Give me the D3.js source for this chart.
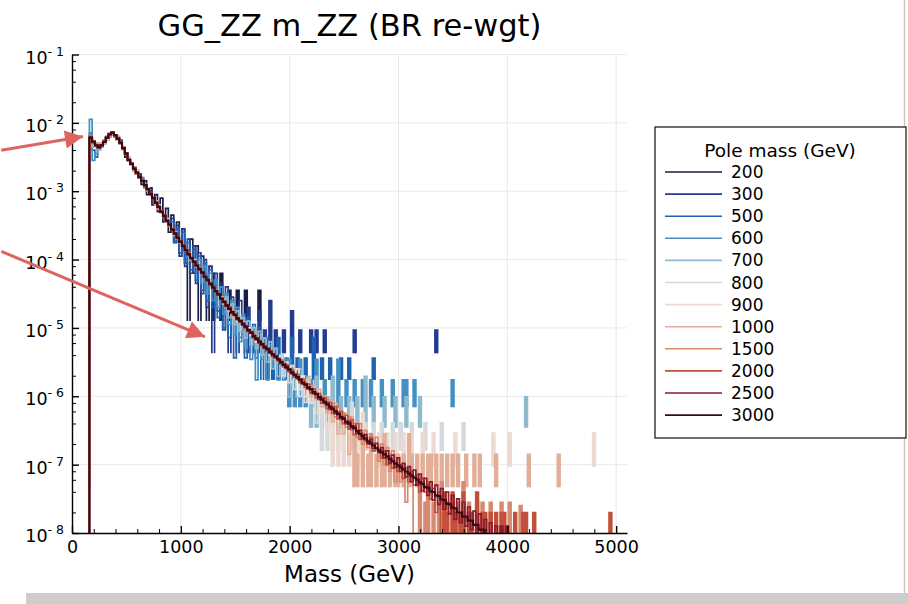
<!DOCTYPE html>
<html>
<head>
<meta charset="utf-8">
<script src="https://cdn.jsdelivr.net/npm/d3@7"></script>
<style>
  body { margin: 0; background: #fff; }
  svg { font-family: "DejaVu Sans", sans-serif; }
</style>
</head>
<body>
<svg id="chart" width="908" height="604"></svg>
<script>
// samples, in legend order (first one drawn at the bottom)
var poleMasses = [200, 300, 500, 600, 700, 800, 900, 1000, 1500, 2000, 2500, 3000];
var seriesColors = ["#1a1c45", "#243c8f", "#1f63b0", "#4590c3", "#8fb9cd", "#d3dadd",
                    "#ecdad2", "#e3ae98", "#d68a70", "#c3503b", "#8a1b2b", "#3d0a14"];

// histogram bins: 25 GeV wide, first bin starts at 160 GeV
var binStart = 160, binWidth = 25;
// log10 level an empty bin falls to, per sample
var floorLog = [-4.9, -5.37, -5.76, -6.16, -6.46, -6.8, -7.03, -7.33, -8.3, -8.5, -9, -9];

// log10(density) of consecutive bins from binStart (null = empty bin)
var dense200 = [-2.25,-2.3,-2.35,-2.4,-2.3,-2.3,-2.25,-2.2,-2.15,-2.2,
  -2.25,-2.3,-2.35,-2.5,-2.55,-2.6,-2.7,-2.7,-2.75,-2.9,
  -2.85,-3.05,-2.95,-3.2,-3.05,-3.3,-3.1,-3.45,-3.25,-3.6,
  -3.35,-3.75,-3.45,-3.9,-3.55,-4.05,null,-3.7,-4.2,-3.8,
  null,-3.95,-4.2,null,-4.1];
var dense300 = [-2.2,-2.3,-2.3,-2.35,-2.35,-2.25,-2.2,-2.15,-2.15,-2.2,
  -2.2,-2.3,-2.4,-2.45,-2.5,-2.6,-2.65,-2.75,-2.8,-2.85,
  -2.9,-3.0,-3.0,-3.1,-3.15,-3.25,-3.3,-3.35,-3.4,-3.5,
  -3.4,-3.75,-3.5,-3.95,-3.55,-4.1,-3.7,-4.2,-3.8,-4.35,
  -3.9,-4.5,-4.0,-4.7,-4.1,null,-4.2,-4.75,-4.35,-5.03,
  -4.4,null,-4.55,-4.73,null,-4.6,-5.03];
var dense500 = [-2.15,-2.4,-2.5,-2.35,-2.3,-2.25,-2.25,-2.15,-2.15,-2.2,
  -2.25,-2.25,-2.35,-2.45,-2.55,-2.6,-2.65,-2.75,-2.8,-2.85,
  -2.9,-3.0,-3.05,-3.1,-3.2,-3.25,-3.3,-3.4,-3.45,-3.45,
  -3.45,-3.75,-3.55,-3.9,-3.6,-4.05,-3.75,-4.15,-3.85,-4.3,
  -3.95,-4.45,-4.05,-4.6,-4.15,-4.7,-4.3,-4.85,-4.4,-5.0,
  -4.5,-5.14,-4.6,-5.44,-4.7,-5.14,-4.8,-5.44,-4.85,-5.14,
  -4.95,-5.44,-5.0,null,-5.14];
var dense600 = [-1.95,-2.55,-2.45,-2.4,-2.3,-2.3,-2.2,-2.2,-2.15,-2.2,
  -2.25,-2.3,-2.35,-2.45,-2.55,-2.6,-2.65,-2.75,-2.8,-2.8,
  -2.95,-2.95,-3.05,-3.1,-3.15,-3.25,-3.3,-3.35,-3.45,-3.5,
  -3.55,-3.6,-3.7,-3.75,-3.8,-3.85,-3.95,-4.0,-4.0,-4.1,
  -4.0,-4.35,-4.1,-4.5,-4.2,-4.6,-4.3,-4.7,-4.4,-4.8,
  -4.5,-4.95,-4.6,-5.1,-4.7,-5.2,-4.8,-5.3,-4.9,-5.46,
  -5.0,-5.76,-5.1,-5.46,-5.15,-5.76,-5.25,-5.46,-5.3,-5.76,
  -5.4,-5.76,-5.46];
var dense700 = [-2.2,-2.35,-2.35,-2.4,-2.3,-2.3,-2.2,-2.2,-2.15,-2.2,
  -2.25,-2.3,-2.35,-2.45,-2.55,-2.6,-2.65,-2.75,-2.8,-2.85,
  -2.9,-3.0,-3.05,-3.1,-3.15,-3.25,-3.3,-3.35,-3.45,-3.5,
  -3.55,-3.65,-3.7,-3.75,-3.8,-3.85,-3.9,-4.0,-4.05,-4.1,
  -4.15,-4.2,-4.25,-4.3,-4.35,-4.4,-4.45,-4.5,-4.55,-4.65,
  -4.55,-4.85,-4.65,-4.95,-4.75,-5.05,-4.85,-5.15,-4.9,-5.25,
  -5.0,-5.3,-5.05,-5.4,-5.15,-5.5,-5.2,-5.6,-5.3,-5.71,
  -5.4,-5.71,-5.5,-6.01,-5.55,-5.71,-6.01,-5.6,-5.85,-6.01,-5.71];
var dense800 = [-2.25,-2.3,-2.3,-2.35,-2.35,-2.3,-2.2,-2.2,-2.15,-2.2,
  -2.2,-2.3,-2.4,-2.45,-2.5,-2.6,-2.7,-2.7,-2.8,-2.85,
  -2.9,-2.95,-3.05,-3.1,-3.2,-3.2,-3.3,-3.35,-3.4,-3.5,
  -3.55,-3.6,-3.7,-3.75,-3.8,-3.85,-3.9,-4.0,-4.05,-4.1,
  -4.15,-4.2,-4.25,-4.3,-4.35,-4.4,-4.45,-4.5,-4.55,-4.6,
  -4.7,-4.7,-4.8,-4.8,-4.9,-4.9,-4.95,-5.0,-5.05,-5.1,
  -5.1,-5.2,-5.2,-5.25,-5.3,-5.3,-5.4,-5.4,-5.45,-5.5,
  -5.4,-5.7,-5.5,-5.8,-5.55,-5.9,-5.6,-6.0,-5.7,-6.09,
  -5.75,-6.09,-5.85,-6.39,-5.9];
var dense900 = [-2.2,-2.3,-2.35,-2.35,-2.3,-2.25,-2.25,-2.15,-2.15,-2.2,
  -2.25,-2.3,-2.4,-2.45,-2.55,-2.6,-2.65,-2.75,-2.8,-2.85,
  -2.9,-3.0,-3.05,-3.1,-3.15,-3.25,-3.3,-3.35,-3.45,-3.5,
  -3.55,-3.6,-3.7,-3.75,-3.8,-3.85,-3.9,-4.0,-4.0,-4.1,
  -4.15,-4.2,-4.25,-4.3,-4.35,-4.4,-4.45,-4.5,-4.55,-4.6,
  -4.65,-4.75,-4.75,-4.85,-4.85,-4.9,-4.95,-5.0,-5.0,-5.1,
  -5.1,-5.2,-5.2,-5.25,-5.3,-5.3,-5.35,-5.4,-5.4,-5.5,
  -5.5,-5.55,-5.55,-5.6,-5.65,-5.7,-5.6,-5.9,-5.7,-6.0,
  -5.75,-6.1,-5.85,-6.24,-5.9,-6.24,-6.0,-6.54,-6.1];
var dense1000 = [-2.2,-2.3,-2.35,-2.35,-2.3,-2.3,-2.2,-2.2,-2.15,-2.2,
  -2.25,-2.3,-2.35,-2.45,-2.55,-2.6,-2.65,-2.75,-2.8,-2.85,
  -2.9,-3.0,-3.05,-3.1,-3.15,-3.25,-3.3,-3.35,-3.45,-3.5,
  -3.55,-3.6,-3.7,-3.75,-3.8,-3.85,-3.9,-4.0,-4.05,-4.1,
  -4.15,-4.2,-4.25,-4.3,-4.35,-4.4,-4.45,-4.5,-4.55,-4.65,
  -4.65,-4.75,-4.75,-4.85,-4.85,-4.9,-4.95,-5.0,-5.05,-5.05,
  -5.1,-5.15,-5.2,-5.25,-5.25,-5.3,-5.35,-5.4,-5.4,-5.45,
  -5.5,-5.55,-5.55,-5.6,-5.65,-5.65,-5.7,-5.75,-5.75,-5.8,
  -5.75,-6.0,-5.85,-6.05,-5.9,-6.15,-6.0,-6.25,-6.05,-6.37,
  -6.1,-6.55,-6.2,-6.55,-6.25,-6.85,-6.3];
var dense1500 = [-2.2,-2.3,-2.3,-2.35,-2.35,-2.25,-2.2,-2.2,-2.15,-2.2,
  -2.2,-2.3,-2.35,-2.45,-2.55,-2.6,-2.65,-2.75,-2.8,-2.85,
  -2.9,-3.0,-3.05,-3.1,-3.15,-3.25,-3.3,-3.35,-3.45,-3.5,
  -3.55,-3.6,-3.7,-3.75,-3.8,-3.85,-3.9,-4.0,-4.05,-4.1,
  -4.15,-4.2,-4.25,-4.3,-4.35,-4.4,-4.45,-4.5,-4.55,-4.6,
  -4.65,-4.7,-4.75,-4.8,-4.85,-4.9,-4.95,-5.0,-5.05,-5.05,
  -5.1,-5.15,-5.2,-5.25,-5.25,-5.3,-5.35,-5.4,-5.4,-5.45,
  -5.5,-5.5,-5.6,-5.6,-5.65,-5.7,-5.7,-5.75,-5.8,-5.8,
  -5.9,-5.85,-5.95,-5.95,-6.05,-6.0,-6.1,-6.05,-6.2,-6.1,
  -6.3,-6.15,-6.35,-6.25,-6.45,-6.3,-6.5,-6.4,-6.6,-6.4,
  -6.7,-6.5,-6.75,-6.55,-6.8,-6.6,-6.95,-6.7,-7.0,-6.75,
  -7.1,-6.8,-7.25,-6.9,-7.25,-7.0,-7.55,-7.05,-7.25];
var dense2000 = [-2.2,-2.3,-2.32,-2.37,-2.33,-2.28,-2.22,-2.17,-2.14,-2.2,
  -2.22,-2.3,-2.37,-2.46,-2.53,-2.61,-2.66,-2.74,-2.79,-2.86,
  -2.9,-2.98,-3.03,-3.11,-3.16,-3.24,-3.29,-3.37,-3.42,-3.5,
  -3.55,-3.63,-3.67,-3.75,-3.79,-3.87,-3.91,-3.99,-4.02,-4.1,
  -4.13,-4.2,-4.24,-4.31,-4.34,-4.42,-4.45,-4.52,-4.56,-4.63,
  -4.66,-4.73,-4.76,-4.82,-4.85,-4.91,-4.93,-5.0,-5.02,-5.08,
  -5.1,-5.18,-5.18,-5.26,-5.26,-5.34,-5.33,-5.42,-5.4,-5.49,
  -5.47,-5.57,-5.54,-5.64,-5.61,-5.72,-5.68,-5.8,-5.75,-5.87,
  -5.82,-5.95,-5.89,-6.02,-5.96,-6.1,-6.02,-6.18,-6.09,-6.25,
  -6.15,-6.33,-6.22,-6.4,-6.28,-6.48,-6.34,-6.56,-6.4,-6.63,
  -6.6,-6.65,-6.7,-6.6,-6.8,-6.75,-6.8,-6.9,-6.8,-7.0,
  -6.9,-7.05,-7.0,-7.1,-7.0,-7.2,-7.05,-7.25,-7.1,-7.3,
  -7.15,-7.4,-7.2,-7.4,-7.3,-7.5,-7.35,-7.7,-7.4];
var dense2500 = [-2.2,-2.28,-2.33,-2.35,-2.32,-2.27,-2.21,-2.16,-2.15,-2.18,
  -2.24,-2.29,-2.38,-2.44,-2.55,-2.59,-2.68,-2.72,-2.8,-2.84,
  -2.92,-2.96,-3.05,-3.09,-3.18,-3.22,-3.31,-3.35,-3.44,-3.48,
  -3.57,-3.61,-3.69,-3.73,-3.81,-3.85,-3.93,-3.97,-4.05,-4.08,
  -4.15,-4.18,-4.26,-4.29,-4.37,-4.39,-4.47,-4.5,-4.58,-4.61,
  -4.69,-4.7,-4.79,-4.8,-4.88,-4.89,-4.96,-4.97,-5.05,-5.06,
  -5.14,-5.15,-5.22,-5.23,-5.3,-5.3,-5.37,-5.38,-5.44,-5.45,
  -5.52,-5.53,-5.59,-5.6,-5.67,-5.68,-5.74,-5.75,-5.82,-5.82,
  -5.89,-5.89,-5.96,-5.96,-6.04,-6.03,-6.1,-6.1,-6.18,-6.17,
  -6.25,-6.24,-6.32,-6.31,-6.4,-6.37,-6.46,-6.44,-6.54,-6.5,
  -6.62,-6.56,-6.69,-6.63,-6.76,-6.69,-6.82,-6.75,-6.9,-6.8,
  -6.98,-6.86,-7.04,-6.9,-7.1,-6.98,-7.18,-7.03,-7.25,-7.08,
  -7.3,-7.14,-7.38,-7.2,-7.45,-7.25,-7.52,-7.3,-7.58,-7.35,
  -7.65,-7.4,-7.72,-7.45,-7.8,-7.5,-7.85,-7.55,-7.9,-7.62,
  -7.95,-7.68,-8.0,-7.72,-8.05,-7.8,-8.1,-7.85,-8.15,-7.9,-8.2];
var dense3000 = [-2.22,-2.27,-2.33,-2.36,-2.33,-2.28,-2.22,-2.17,-2.14,-2.18,
  -2.23,-2.29,-2.37,-2.45,-2.54,-2.6,-2.67,-2.73,-2.79,-2.85,
  -2.91,-2.97,-3.04,-3.1,-3.17,-3.23,-3.3,-3.36,-3.43,-3.49,
  -3.56,-3.62,-3.68,-3.74,-3.8,-3.86,-3.92,-3.98,-4.03,-4.09,
  -4.14,-4.19,-4.25,-4.3,-4.35,-4.41,-4.46,-4.51,-4.57,-4.62,
  -4.67,-4.72,-4.77,-4.81,-4.86,-4.9,-4.94,-4.99,-5.03,-5.07,
  -5.12,-5.16,-5.2,-5.24,-5.28,-5.31,-5.35,-5.39,-5.42,-5.46,
  -5.5,-5.54,-5.57,-5.61,-5.65,-5.69,-5.72,-5.76,-5.8,-5.83,
  -5.87,-5.9,-5.94,-5.97,-6.01,-6.05,-6.08,-6.12,-6.15,-6.19,
  -6.22,-6.26,-6.3,-6.33,-6.37,-6.4,-6.44,-6.47,-6.51,-6.55,
  -6.58,-6.62,-6.66,-6.69,-6.72,-6.76,-6.79,-6.82,-6.85,-6.88,
  -6.92,-6.95,-6.98,-7.01,-7.04,-7.07,-7.1,-7.13,-7.16,-7.19,
  -7.22,-7.26,-7.28,-7.33,-7.34,-7.39,-7.4,-7.45,-7.46,-7.51,
  -7.52,-7.57,-7.58,-7.63,-7.64,-7.7,-7.7,-7.76,-7.76,-7.82,
  -7.82,-7.88,-7.88,-7.95,-7.95,-8.02];

// single bins further out: [bin low edge (GeV), log10(density)]
var sparse200 = [[1285,-4.2],[1360,-4.2],[1435,-4.45],[1510,-4.45],[1585,-4.45],[1710,-4.45]];
var sparse300 = [[1610,-4.7],[1660,-5.03],[1710,-4.75],[1760,-5.03],[1810,-4.6],[1860,-5.03],
  [1935,-5.03],[2010,-4.75],[2085,-5.03],[2185,-5.03],[2235,-5.03],[2310,-5.03],[2585,-5.03],[3335,-5.03]];
var sparse500 = [[1785,-5.14],[1835,-5.44],[1885,-5.14],[1960,-5.44],[2010,-5.14],[2060,-5.44],
  [2135,-5.44],[2210,-5.14],[2285,-5.44],[2360,-5.44],[2460,-5.44],[2535,-5.44],[2760,-5.44]];
var sparse600 = [[1985,-5.46],[2035,-5.76],[2085,-5.46],[2135,-5.76],[2185,-5.76],[2235,-5.46],
  [2310,-5.76],[2385,-5.76],[2435,-5.46],[2510,-5.76],[2585,-5.76],[2660,-5.76],[2735,-5.76],
  [2835,-5.76],[2935,-5.76],[3035,-5.76],[3060,-5.76],[3135,-5.76],[3485,-5.76]];
var sparse700 = [[2185,-6.01],[2235,-5.71],[2285,-6.01],[2335,-6.01],[2385,-5.71],[2460,-6.01],
  [2535,-6.01],[2610,-6.01],[2685,-5.71],[2760,-6.01],[2860,-6.01],[2960,-6.01],[3060,-6.01],
  [3185,-6.01],[4160,-6.01]];
var sparse800 = [[2285,-6.09],[2335,-6.39],[2385,-6.09],[2435,-6.39],[2485,-6.39],[2560,-6.09],
  [2610,-6.39],[2685,-6.39],[2760,-6.39],[2835,-6.39],[2935,-6.39],[3010,-6.39],[3110,-6.39],
  [3235,-6.39],[3385,-6.39],[3585,-6.39]];
var sparse900 = [[2385,-6.24],[2435,-6.54],[2485,-6.24],[2535,-6.54],[2610,-6.54],[2660,-6.24],
  [2735,-6.54],[2810,-6.54],[2885,-6.54],[2960,-6.54],[3035,-6.54],[3110,-6.54],[3210,-6.54],
  [3310,-6.54],[3510,-6.54],[3860,-6.54],[4010,-6.54],[4785,-6.54]];
var sparse1000 = [[2585,-6.55],[2610,-6.85],[2660,-6.55],[2710,-6.85],[2735,-6.55],[2785,-6.85],
  [2835,-6.85],[2860,-6.55],[2910,-6.85],[2960,-6.85],[2985,-6.85],[3035,-6.85],[3085,-6.55],
  [3110,-6.85],[3160,-6.85],[3210,-6.85],[3260,-6.85],[3285,-6.85],[3335,-6.85],[3385,-6.85],
  [3435,-6.85],[3485,-6.85],[3535,-6.85],[3610,-6.85],[3685,-6.85],[3735,-6.85],[3885,-6.85],
  [4185,-6.85],[4460,-6.85]];
var sparse1500 = [[3185,-7.25],[3235,-7.55],[3260,-7.25],[3310,-7.55],[3360,-7.55],[3385,-7.25],
  [3435,-7.55],[3485,-7.55],[3535,-7.55],[3585,-7.25],[3635,-7.55],[3710,-7.55],[3760,-7.55],
  [3835,-7.55],[3935,-7.55],[4010,-7.55],[4110,-7.6]];
var sparse2000 = [[3410,-7.4],[3435,-7.7],[3485,-7.4],[3510,-7.7],[3560,-7.7],[3585,-7.4],
  [3635,-7.7],[3660,-7.7],[3710,-7.4],[3760,-7.7],[3785,-7.7],[3835,-7.7],[3885,-7.7],
  [3935,-7.7],[3960,-7.7],[4060,-7.7],[4135,-7.7],[4160,-7.7],[4235,-7.7],[4935,-7.7]];
var sparse2500 = [[3935,-7.9],[3985,-7.9]];
var sparse3000 = [];

var denseBins = [dense200, dense300, dense500, dense600, dense700, dense800,
                 dense900, dense1000, dense1500, dense2000, dense2500, dense3000];
var sparseBins = [sparse200, sparse300, sparse500, sparse600, sparse700, sparse800,
                  sparse900, sparse1000, sparse1500, sparse2000, sparse2500, sparse3000];

var xMajor = [0, 1000, 2000, 3000, 4000, 5000];
var yMajor = [-8, -7, -6, -5, -4, -3, -2, -1];

var svg = d3.select("#chart");
var margin = {top: 54.5, left: 72, right: 281, bottom: 71};
var width = 908 - margin.left - margin.right,
    height = 604 - margin.top - margin.bottom;

var x = d3.scaleLinear().domain([0, 5100]).range([0, width]);
var y = d3.scaleLog().domain([1e-8, 1e-1]).range([height, 0]);

function ylog(v) { return y(Math.pow(10, v)); }

// screenshot frame bits
svg.append("rect").attr("x", 26).attr("y", 593).attr("width", 882).attr("height", 11).attr("fill", "#cdcdcd");
svg.append("line").attr("x1", 904.5).attr("x2", 904.5).attr("y1", 0).attr("y2", 593)
  .attr("stroke", "#c8c8c8").attr("stroke-width", 1.5);

svg.append("defs").append("clipPath").attr("id", "clip")
  .append("rect").attr("width", width).attr("height", height + 1);

var g = svg.append("g").attr("transform", "translate(" + margin.left + "," + margin.top + ")");

// grid
g.append("g").selectAll("line").data(xMajor.slice(1)).enter().append("line")
  .attr("x1", function(d) { return x(d); }).attr("x2", function(d) { return x(d); })
  .attr("y1", 0).attr("y2", height)
  .attr("stroke", "#e9e9e9").attr("stroke-width", 1);
g.append("g").selectAll("line").data(yMajor.slice(1)).enter().append("line")
  .attr("x1", 0).attr("x2", width)
  .attr("y1", function(d) { return ylog(d); }).attr("y2", function(d) { return ylog(d); })
  .attr("stroke", "#e9e9e9").attr("stroke-width", 1);

// step outline of a list of bins; runs of adjacent bins are joined,
// each run rises from and falls back to the sample's floor
function stepPoints(bins, fl) {
  var pts = [];
  bins.forEach(function(b, k) {
    if (b.v == null) return;
    var prev = bins[k - 1], next = bins[k + 1];
    var joinPrev = prev && prev.v != null && prev.lo + binWidth === b.lo;
    var joinNext = next && next.v != null && next.lo === b.lo + binWidth;
    if (!joinPrev) { pts.push(null); pts.push([b.lo, fl]); }
    pts.push([b.lo, b.v]);
    pts.push([b.lo + binWidth, b.v]);
    if (!joinNext) pts.push([b.lo + binWidth, fl]);
  });
  return pts;
}

var line = d3.line()
  .defined(function(d) { return d !== null; })
  .x(function(d) { return x(d[0]); })
  .y(function(d) { return ylog(d[1]); });

var plot = g.append("g").attr("clip-path", "url(#clip)");
poleMasses.forEach(function(m, i) {
  var dense = denseBins[i].map(function(v, k) { return {lo: binStart + k * binWidth, v: v}; });
  var sparse = sparseBins[i].map(function(s) { return {lo: s[0], v: s[1]}; });
  var sw = i === poleMasses.length - 1 ? 2.2 : 1.7;
  plot.append("path")
    .attr("d", line(stepPoints(dense, floorLog[i])))
    .attr("fill", "none")
    .attr("stroke", seriesColors[i])
    .attr("stroke-width", sw);
  // isolated bins look like thin solid bars
  plot.append("path")
    .attr("d", line(stepPoints(sparse, floorLog[i])))
    .attr("fill", seriesColors[i])
    .attr("stroke", seriesColors[i])
    .attr("stroke-width", sw);
});

// axes
var xMinor = d3.range(200, 5001, 200).filter(function(d) { return d % 1000 !== 0; });
var yMinor = [];
yMajor.slice(0, -1).forEach(function(e) { [2, 4, 6, 8].forEach(function(f) { yMinor.push(f * Math.pow(10, e)); }); });

g.append("g").attr("transform", "translate(0," + height + ")")
  .call(d3.axisBottom(x).tickValues(xMinor).tickSize(-4).tickSizeOuter(0).tickFormat(""))
  .call(function(s) { s.select(".domain").remove(); });
g.append("g").attr("transform", "translate(0," + height + ")")
  .call(d3.axisBottom(x).tickValues(xMajor).tickSize(-7).tickSizeOuter(0).tickPadding(8)
    .tickFormat(d3.format("d")))
  .call(function(s) {
    s.select(".domain").attr("stroke-width", 1.4);
    s.selectAll(".tick line").attr("stroke-width", 1.4);
    s.selectAll(".tick text").attr("font-size", 17.5).attr("font-family", "DejaVu Sans").attr("fill", "#000");
  });

g.append("g")
  .call(d3.axisLeft(y).tickValues(yMinor).tickSize(-4).tickSizeOuter(0).tickFormat(""))
  .call(function(s) { s.select(".domain").remove(); });
g.append("g")
  .call(d3.axisLeft(y).tickValues(yMajor.map(function(e) { return Math.pow(10, e); }))
    .tickSize(-7).tickSizeOuter(0).tickFormat(""))
  .call(function(s) {
    s.select(".domain").attr("stroke-width", 1.4);
    s.selectAll(".tick line").attr("stroke-width", 1.4);
    s.selectAll(".tick text").remove();
  });

g.append("g").selectAll("text").data(yMajor).enter().append("text")
  .attr("x", -8).attr("y", function(d) { return ylog(d) + 9; })
  .attr("text-anchor", "end").attr("font-size", 17.5).attr("fill", "#000")
  .each(function(d) {
    var t = d3.select(this);
    t.append("tspan").text("10");
    t.append("tspan").attr("dy", -8).attr("font-size", 12.5).text("- " + (-d));
  });

// titles
svg.append("text").attr("x", margin.left + x(2550)).attr("y", 36)
  .attr("text-anchor", "middle").attr("font-size", 30.5).attr("fill", "#000")
  .text("GG_ZZ m_ZZ (BR re-wgt)");
svg.append("text").attr("x", margin.left + x(2550)).attr("y", 582)
  .attr("text-anchor", "middle").attr("font-size", 23).attr("fill", "#000")
  .text("Mass (GeV)");

// legend
var leg = svg.append("g").attr("transform", "translate(655,127)");
leg.append("rect").attr("width", 251).attr("height", 311)
  .attr("fill", "#fff").attr("stroke", "#222").attr("stroke-width", 1.3);
leg.append("text").attr("x", 125).attr("y", 30).attr("text-anchor", "middle")
  .attr("font-size", 18.5).text("Pole mass (GeV)");
var items = leg.selectAll("g.item").data(poleMasses).enter().append("g")
  .attr("class", "item")
  .attr("transform", function(d, i) { return "translate(0," + (45 + i * 22.1) + ")"; });
items.append("line").attr("x1", 10).attr("x2", 67)
  .attr("stroke", function(d, i) { return seriesColors[i]; }).attr("stroke-width", 1.6);
items.append("text").attr("x", 76).attr("y", 6).attr("font-size", 17).text(function(d) { return d; });

// red annotation arrows
var defs = svg.select("defs");
defs.append("marker").attr("id", "head").attr("viewBox", "0 0 10 10")
  .attr("refX", 10).attr("refY", 5).attr("markerWidth", 7).attr("markerHeight", 6)
  .attr("orient", "auto")
  .append("path").attr("d", "M0,0L10,5L0,10Z").attr("fill", "#dd6460");
var arrows = [[[-650, -2.40], [101, -2.20]], [[-650, -3.88], [1222, -5.13]]];
g.selectAll("line.arrow").data(arrows).enter().append("line")
  .attr("class", "arrow")
  .attr("x1", function(d) { return x(d[0][0]); }).attr("y1", function(d) { return ylog(d[0][1]); })
  .attr("x2", function(d) { return x(d[1][0]); }).attr("y2", function(d) { return ylog(d[1][1]); })
  .attr("stroke", "#dd6460").attr("stroke-width", 3)
  .attr("marker-end", "url(#head)");
</script>
</body>
</html>
